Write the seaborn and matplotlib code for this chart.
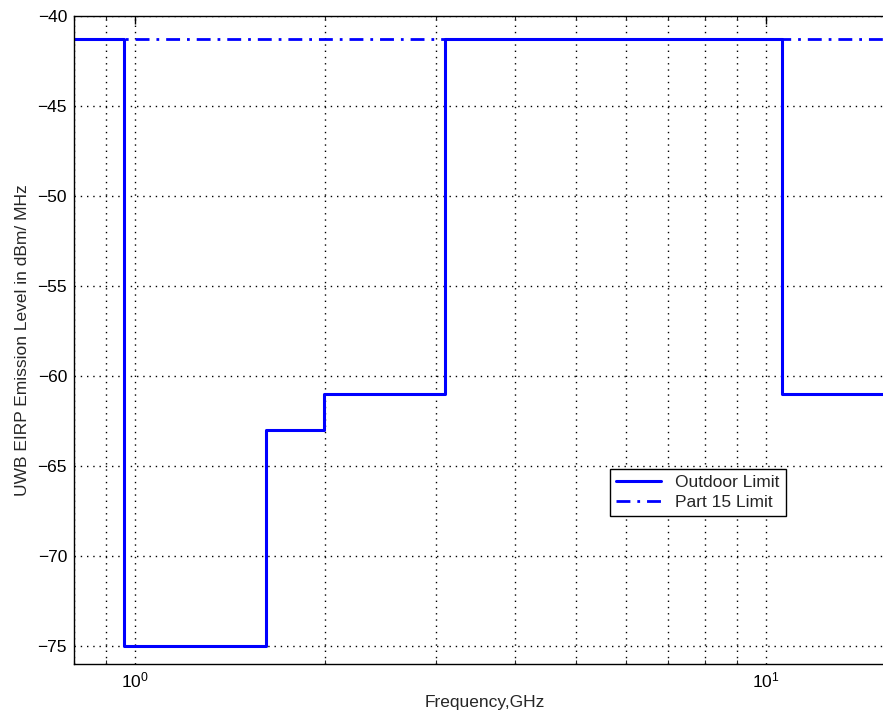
import matplotlib
matplotlib.use("Agg")
import matplotlib.pyplot as plt
import matplotlib.ticker as mticker
import seaborn as sns
import pandas as pd

# FCC UWB outdoor emission mask (step edges in GHz, level in dBm/MHz)
outdoor_freq = [0.8, 0.96, 1.61, 1.99, 3.1, 10.6, 16.0]
outdoor_level = [-41.3, -75.0, -63.0, -61.0, -41.3, -61.0, -61.0]

# Part 15 general emission limit
part15_freq = [0.8, 16.0]
part15_level = [-41.3, -41.3]

sns.set_theme(style="white")
plt.rcParams["font.family"] = ["Liberation Sans", "DejaVu Sans"]

fig = plt.figure(figsize=(8.83, 7.21), dpi=100)
ax = fig.add_axes([74 / 883, 1 - 664 / 721, (894.7 - 74) / 883, (664 - 16) / 721])

blue = "#0000ff"
df_part15 = pd.DataFrame({"f": part15_freq, "lvl": part15_level})
df_out = pd.DataFrame({"f": outdoor_freq, "lvl": outdoor_level})

sns.lineplot(data=df_part15, x="f", y="lvl", ax=ax, color=blue, lw=2.0,
             linestyle=(0, (5, 2.5, 1, 2.5)), label="Part 15 Limit",
             estimator=None, sort=False)
sns.lineplot(data=df_out, x="f", y="lvl", ax=ax, color=blue, lw=2.2,
             drawstyle="steps-post", label="Outdoor Limit",
             estimator=None, sort=False)

ax.set_xscale("log")
ax.set_xlim(0.8, 16.0)
ax.set_ylim(-76, -40)
ax.set_yticks(range(-75, -39, 5))
ax.yaxis.set_major_formatter(mticker.FuncFormatter(lambda v, p: f"\u2212{abs(int(v))}"))
ax.xaxis.set_major_locator(mticker.LogLocator(base=10))
ax.xaxis.set_minor_locator(mticker.LogLocator(base=10, subs=range(2, 10)))
ax.xaxis.set_minor_formatter(mticker.NullFormatter())

ax.grid(True, which="major", axis="both", color="black", linestyle=(0, (1, 3.5)), lw=1.0)
ax.grid(True, which="minor", axis="x", color="black", linestyle=(0, (1, 3.5)), lw=1.0)

ax.tick_params(axis="both", which="major", direction="in", length=6, width=1,
               labelsize=12.5, colors="black", top=True, right=True, pad=5)
ax.tick_params(axis="x", which="minor", direction="in", length=3, width=0.8,
               top=True, bottom=True)

for side in ["left", "bottom", "top"]:
    ax.spines[side].set_color("black")
    ax.spines[side].set_linewidth(1.0)
ax.spines["right"].set_visible(False)

ax.set_xlabel("Frequency,GHz", fontsize=12.5, labelpad=3)
ax.set_ylabel("UWB EIRP Emission Level in dBm/ MHz", fontsize=12.5, labelpad=5)

handles, labels = ax.get_legend_handles_labels()
order = [labels.index("Outdoor Limit"), labels.index("Part 15 Limit")]
leg = ax.legend([handles[i] for i in order], [labels[i] for i in order],
                loc="upper left", bbox_to_anchor=(610 / 883, 1 - 469 / 721),
                bbox_transform=fig.transFigure, fontsize=12.5, frameon=True,
                fancybox=False, edgecolor="black", framealpha=1,
                handlelength=2.6, borderpad=0.35, labelspacing=0.25,
                handletextpad=0.8, borderaxespad=0)
leg.get_frame().set_linewidth(1.0)

fig.savefig("out.png", dpi=100)
